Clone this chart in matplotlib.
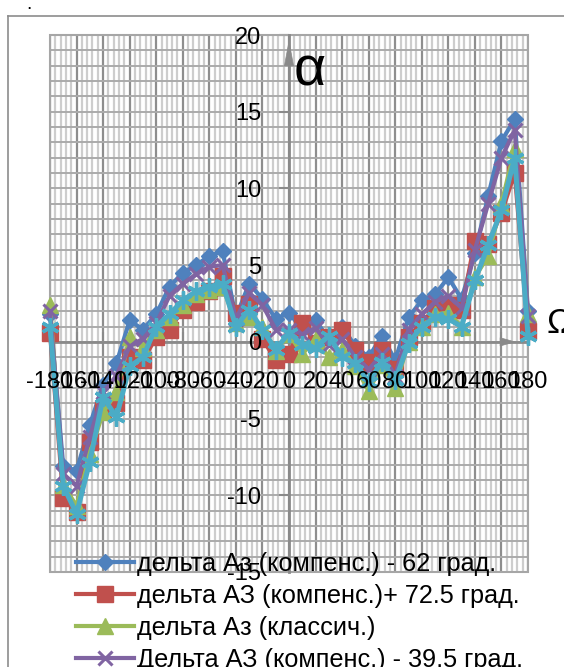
import matplotlib
matplotlib.use('Agg')
import matplotlib.pyplot as plt
from matplotlib.lines import Line2D
from matplotlib.patches import Rectangle, Polygon
from matplotlib.ticker import MultipleLocator, FixedLocator

plt.rcParams['font.family'] = ['Liberation Sans', 'DejaVu Sans']

# ---------------- data ----------------
angles = list(range(-180, 181, 10))

blue = [1.8, -8.1, -8.4, -5.4, -2.8, -1.4, 1.4, 0.8, 1.8, 3.6, 4.5, 5.0, 5.6, 5.9,
        1.6, 3.8, 2.8, 1.5, 1.9, 0.8, 1.4, 0.2, 1.0, -0.3, -1.0, 0.4, -1.2, 1.6,
        2.7, 3.1, 4.2, 2.8, 5.8, 9.5, 13.1, 14.5, 2.0]
red = [0.6, -10.2, -11.1, -6.5, -4.4, -4.0, -1.0, -1.2, 0.3, 0.8, 2.1, 2.6, 3.3, 4.3,
       1.9, 2.5, 0.2, -1.2, -0.8, 1.2, -0.1, 0.3, 0.8, -0.5, -1.3, -0.5, -1.8, 0.3,
       1.2, 2.2, 2.4, 2.1, 6.6, 6.4, 8.4, 11.0, 0.7]
green = [2.4, -9.3, -10.7, -7.3, -4.6, -3.3, 0.3, -0.4, 0.8, 1.6, 2.4, 3.1, 3.4, 3.6,
         1.2, 1.6, 1.0, -0.6, 0.5, -0.8, 0.2, -1.0, -0.5, -1.6, -3.2, -1.5, -3.0, 0.0,
         1.0, 1.8, 1.9, 1.0, 4.2, 5.6, 9.0, 12.6, 1.8]
purple = [2.0, -8.6, -9.4, -6.2, -3.3, -2.2, -0.3, 0.2, 1.2, 3.0, 3.8, 4.4, 4.9, 5.0,
          1.5, 3.2, 2.4, 0.8, 0.8, 0.5, 0.9, -0.2, 0.2, -1.0, -1.8, -0.8, -2.2, 0.8,
          1.8, 2.6, 3.0, 2.2, 6.0, 9.0, 12.0, 13.8, 1.7]
cyan = [1.0, -9.4, -11.2, -7.8, -3.6, -4.9, -1.6, -1.0, 1.0, 1.8, 2.7, 3.3, 3.6, 3.8,
        1.0, 2.1, 0.8, -0.5, 0.6, -0.2, -0.4, 0.4, -1.0, -1.4, -2.6, -1.3, -2.5, -0.1,
        1.0, 1.6, 1.5, 1.0, 4.0, 6.3, 8.6, 12.0, 0.4]

series_labels = ['дельта Аз (компенс.) - 62 град.',
                 'дельта АЗ (компенс.)+ 72.5 град.',
                 'дельта Аз (классич.)',
                 'Дельта АЗ (компенс.) - 39,5 град.']

x_ticks = list(range(-180, 181, 20))
x_tick_labels = [str(v) for v in x_ticks]
y_ticks = list(range(-15, 21, 5))
y_tick_labels = [str(v) for v in y_ticks]

# ---------------- figure ----------------
W, H = 564, 667
fig = plt.figure(figsize=(W / 100, H / 100), dpi=100)
L, R, T, B = 50, 528, 35, 572
pos = [L / W, 1 - B / H, (R - L) / W, (B - T) / H]

ax = fig.add_axes(pos)
ax.set_xlim(-180, 180)
ax.set_ylim(-15, 20)
ax.xaxis.set_major_locator(FixedLocator(x_ticks))
ax.xaxis.set_minor_locator(MultipleLocator(4))
ax.yaxis.set_major_locator(FixedLocator(y_ticks))
ax.yaxis.set_minor_locator(MultipleLocator(1))
ax.grid(which='minor', axis='x', color='#cdcdcd', lw=1.6)
ax.grid(which='major', axis='x', color='#8e8e8e', lw=1.6)
ax.grid(which='both', axis='y', color='#ababab', lw=1.4)

gray = '#8a8a8a'
for s in ['top', 'right']:
    ax.spines[s].set_visible(False)
ax.spines['left'].set_position(('data', 0))
ax.spines['bottom'].set_position(('data', 0))
for s in ['left', 'bottom']:
    ax.spines[s].set_color(gray)
    ax.spines[s].set_linewidth(2)
ax.tick_params(axis='x', which='major', direction='in', length=7, width=1.5,
               color=gray, labelbottom=False)
ax.tick_params(axis='y', which='major', direction='out', length=7, width=1.5,
               color=gray, labelleft=False)
ax.tick_params(which='minor', length=0)

ax.add_patch(Rectangle((0, 0), 1, 1, transform=ax.transAxes, fill=False,
                       ec='#a6a6a6', lw=1.5, clip_on=False, zorder=1.6))

# axis arrows
ax.add_patch(Polygon([(-3.4, 18.0), (3.4, 18.0), (0, 19.6)], closed=True,
                     fc=gray, ec=gray, lw=0.5, zorder=2.6))
ax.add_patch(Polygon([(159, -0.27), (159, 0.27), (170, 0)], closed=True,
                     fc=gray, ec=gray, lw=0.5, zorder=2.6))

styles = [
    dict(color='#4F81BD', marker='D', ms=8.5, lw=3.0),
    dict(color='#C0504D', marker='s', ms=11, lw=3.0),
    dict(color='#9BBB59', marker='^', ms=11.5, lw=3.0),
    dict(color='#8064A2', marker='x', ms=10.5, mew=2.2, lw=3.0),
    dict(color='#4BACC6', marker=(6, 2, 0), ms=13, mew=2.4, lw=3.6),
]
data = [blue, red, green, purple, cyan]
handles = []
for i, (vals, st) in enumerate(zip(data, styles)):
    ln, = ax.plot(angles, vals, zorder=3 + i, clip_on=False, **st)
    handles.append(ln)

# ---------------- tick labels on top ----------------
axl = fig.add_axes(pos, frameon=False)
axl.set_zorder(5)
axl.patch.set_visible(False)
axl.set_xlim(-180, 180)
axl.set_ylim(-15, 20)
axl.spines['left'].set_position(('data', 0))
axl.spines['bottom'].set_position(('data', 0))
axl.set_xticks(x_ticks)
axl.set_xticklabels(x_tick_labels)
axl.set_yticks(y_ticks)
axl.set_yticklabels(y_tick_labels)
axl.tick_params(axis='x', length=0, pad=21, labelsize=17)
axl.tick_params(axis='y', length=0, pad=20, labelsize=17)

# legend
leg = axl.legend(handles[:4], series_labels, loc='upper left',
                 bbox_to_anchor=(76 / W, 1 - 552 / H), bbox_transform=fig.transFigure,
                 frameon=False, fontsize=18.2, handlelength=2.3, handletextpad=0.12,
                 labelspacing=0.32, borderpad=0, borderaxespad=0)

# axis name labels
fig.text(310 / W, 1 - 72 / H, 'α', ha='center', va='center', fontsize=40)
fig.text(546 / W, 1 - 323 / H, 'Ω', ha='left', va='center', fontsize=25)

# chart frame and stray dot
fig.add_artist(Line2D([8 / W, 8 / W], [-0.05, 1 - 16 / H], color='#8c8c8c', lw=1.2))
fig.add_artist(Line2D([8 / W, 1.05], [1 - 16 / H, 1 - 16 / H], color='#8c8c8c', lw=1.2))
fig.text(29 / W, 1 - 9 / H, '.', ha='center', va='baseline', fontsize=14)

fig.savefig('out.png', dpi=100)
